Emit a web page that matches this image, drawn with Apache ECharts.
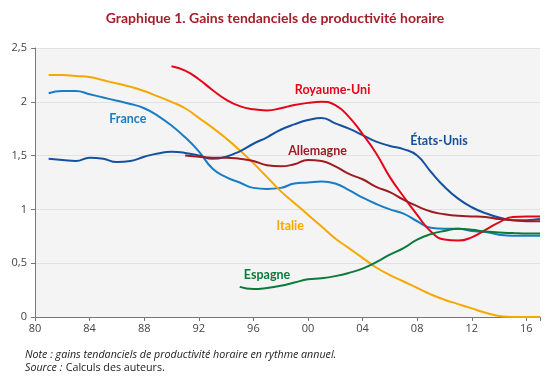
<!DOCTYPE html>
<html><head><meta charset="utf-8">
<script src="https://cdn.jsdelivr.net/npm/echarts@6/dist/echarts.min.js"></script>
<style>html,body{margin:0;padding:0;background:#fff}#c{width:550px;height:385px}</style>
</head><body><div id="c"></div>
<script>
const xTickLabels = ['80','84','88','92','96','00','04','08','12','16'];
const yTickLabels = ['0','0,5','1','1,5','2','2,5'];
const yearsFrance = [1981,1982,1983,1984,1985,1986,1987,1988,1989,1990,1991,1992,1993,1994,1995,1996,1997,1998,1999,2000,2001,2002,2003,2004,2005,2006,2007,2008,2009,2010,2011,2012,2013,2014,2015,2016,2017];
const france  = [2.08,2.10,2.10,2.07,2.04,2.01,1.98,1.94,1.87,1.78,1.67,1.54,1.38,1.30,1.25,1.20,1.19,1.20,1.24,1.25,1.26,1.24,1.18,1.11,1.05,1.00,0.96,0.89,0.83,0.82,0.82,0.80,0.79,0.765,0.755,0.755,0.755];
const italie  = [2.25,2.25,2.24,2.23,2.20,2.17,2.14,2.10,2.05,2.00,1.94,1.85,1.76,1.66,1.55,1.43,1.30,1.17,1.06,0.95,0.84,0.73,0.64,0.55,0.46,0.39,0.33,0.27,0.21,0.16,0.12,0.08,0.04,0.01,0.0,0.0,0.0];
const etatsUnis = [1.47,1.46,1.45,1.48,1.47,1.44,1.45,1.49,1.52,1.535,1.525,1.50,1.47,1.49,1.54,1.61,1.67,1.74,1.79,1.83,1.85,1.80,1.75,1.69,1.63,1.59,1.56,1.50,1.35,1.21,1.10,1.02,0.965,0.925,0.90,0.90,0.91];
const yearsRU = [1990,1991,1992,1993,1994,1995,1996,1997,1998,1999,2000,2001,2002,2003,2004,2005,2006,2007,2008,2009,2010,2011,2012,2013,2014,2015,2016,2017];
const royaumeUni = [2.33,2.29,2.21,2.11,2.02,1.96,1.93,1.92,1.94,1.97,1.99,2.00,1.97,1.86,1.70,1.52,1.30,1.12,0.95,0.795,0.72,0.71,0.74,0.81,0.88,0.93,0.935,0.935];
const yearsAll = [1991,1992,1993,1994,1995,1996,1997,1998,1999,2000,2001,2002,2003,2004,2005,2006,2007,2008,2009,2010,2011,2012,2013,2014,2015,2016,2017];
const allemagne = [1.50,1.49,1.48,1.48,1.47,1.45,1.41,1.40,1.42,1.46,1.45,1.40,1.33,1.28,1.21,1.16,1.09,1.03,0.98,0.955,0.94,0.935,0.93,0.91,0.90,0.89,0.89];
const yearsEsp = [1995,1996,1997,1998,1999,2000,2001,2002,2003,2004,2005,2006,2007,2008,2009,2010,2011,2012,2013,2014,2015,2016,2017];
const espagne = [0.28,0.26,0.27,0.29,0.32,0.35,0.36,0.38,0.41,0.45,0.51,0.58,0.64,0.72,0.77,0.80,0.82,0.81,0.795,0.785,0.78,0.775,0.775];
const seriesNames = ['France','Italie','États-Unis','Royaume-Uni','Allemagne','Espagne'];

const pair = (xs, ys) => xs.map((x, i) => [x, ys[i]]);
const colors = ['#1b7cc4','#f6a800','#1551a0','#e3061b','#9e1b22','#0b7a3a'];
const labelPos = [[1986.8,1.84],[1998.7,0.85],[2009.6,1.64],[2001.8,2.11],[2000.7,1.54],[1997.0,0.395]];
const datasets = [pair(yearsFrance,france),pair(yearsFrance,italie),pair(yearsFrance,etatsUnis),pair(yearsRU,royaumeUni),pair(yearsAll,allemagne),pair(yearsEsp,espagne)];

const chart = echarts.init(document.getElementById('c'));
chart.setOption({
  animation:false,
  title:{text:'Graphique 1. Gains tendanciels de productivité horaire',left:'center',top:6,
    textStyle:{color:'#a3202b',fontFamily:'Lato',fontWeight:'bold',fontSize:14}},
  grid:{left:35,right:10,top:48,bottom:68,show:true,backgroundColor:'#f4f4f4',borderWidth:0},
  xAxis:{type:'value',min:1980,max:2017,interval:4,
    axisLine:{show:true,lineStyle:{color:'#777',width:1}},
    axisTick:{show:true,length:4,lineStyle:{color:'#777'}},
    splitLine:{show:false},
    axisLabel:{color:'#444',fontFamily:'Open Sans',fontSize:11,margin:6,
      formatter:v=>xTickLabels[(v-1980)/4] ?? ''}},
  yAxis:{type:'value',min:0,max:2.5,interval:0.5,
    axisLine:{show:true,lineStyle:{color:'#777',width:1}},
    axisTick:{show:true,length:4,lineStyle:{color:'#777'}},
    splitLine:{show:true,lineStyle:{color:'#e2e2e2',width:1}},
    axisLabel:{color:'#444',fontFamily:'Open Sans',fontSize:11,margin:8,
      formatter:v=>yTickLabels[Math.round(v/0.5)]}},
  series: seriesNames.map((n,i)=>({
    name:n,type:'line',data:datasets[i],smooth:0.5,showSymbol:false,
    lineStyle:{color:colors[i],width:2},
    markPoint:{symbol:'circle',symbolSize:0,silent:true,
      data:[{coord:labelPos[i],label:{show:true,position:'inside',formatter:n,color:colors[i],
        fontFamily:'Lato',fontWeight:'bold',fontSize:12.5}}]}
  })),
  graphic:[{type:'text',left:25,top:349,style:{
    text:'{i|Note : gains tendanciels de productivité horaire en rythme annuel.}\n{i|Source :} {n|Calculs des auteurs.}',
    rich:{i:{fontStyle:'italic',fontFamily:'Open Sans',fontSize:10.7,fill:'#222',lineHeight:13.5},
          n:{fontFamily:'Open Sans',fontSize:10.7,fill:'#222',lineHeight:13.5}}}}]
});
</script></body></html>
